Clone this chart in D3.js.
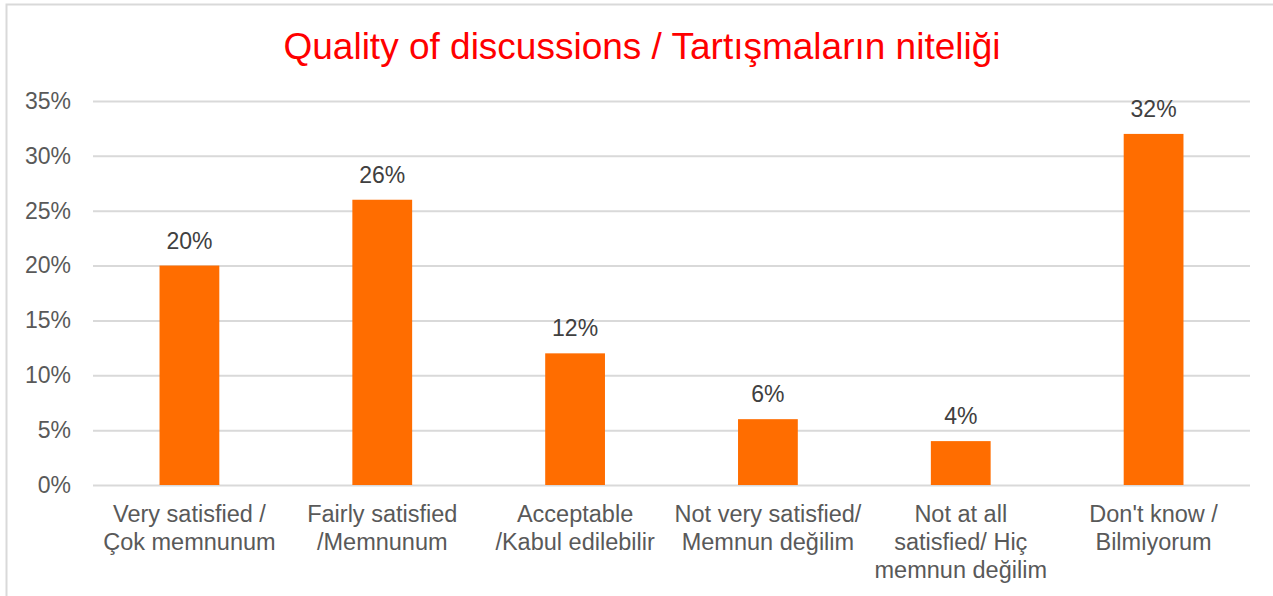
<!DOCTYPE html>
<html>
<head>
<meta charset="utf-8">
<script src="https://cdn.jsdelivr.net/npm/d3@7"></script>
<style>
  body { margin: 0; background: #fff; overflow: hidden; }
  svg { display: block; font-family: "Liberation Sans", Arial, sans-serif; }
</style>
</head>
<body>
<svg id="chart"></svg>
<script>
// data
const categories = [
  ["Very satisfied /", "Çok memnunum"],
  ["Fairly satisfied", "/Memnunum"],
  ["Acceptable", "/Kabul edilebilir"],
  ["Not very satisfied/", "Memnun değilim"],
  ["Not at all", "satisfied/ Hiç", "memnun değilim"],
  ["Don't know /", "Bilmiyorum"]
]
const values = [20, 26, 12, 6, 4, 32]
const yTicks = [0, 5, 10, 15, 20, 25, 30, 35]
const title = "Quality of discussions / Tartışmaların niteliği"

const width = 1273
const height = 596
const margin = { top: 101, right: 23, bottom: 111, left: 93 }
const innerWidth = width - margin.left - margin.right
const innerHeight = height - margin.top - margin.bottom

const svg = d3.select("#chart").attr("width", width).attr("height", height)

// outer frame (only left and top edges are visible)
svg.append("path")
  .attr("d", `M6.5,${height} V4.5 H${width}`)
  .attr("fill", "none").attr("stroke", "#d9d9d9").attr("stroke-width", 2)

svg.append("text")
  .attr("x", 642).attr("y", 59)
  .attr("text-anchor", "middle")
  .attr("fill", "#ff0000")
  .style("font-size", "37px")
  .text(title)

const g = svg.append("g").attr("transform", `translate(${margin.left},${margin.top})`)

const x = d3.scaleBand()
  .domain(d3.range(categories.length))
  .range([0, innerWidth])
  .paddingInner(0.69)
  .paddingOuter(0.345)

const y = d3.scaleLinear().domain([0, 35]).range([innerHeight, 0])

// y axis with gridlines
const yAxis = d3.axisLeft(y)
  .tickValues(yTicks)
  .tickFormat((d) => d + "%")
  .tickSizeInner(-innerWidth)
  .tickSizeOuter(0)
  .tickPadding(22)

const yg = g.append("g").call(yAxis)
yg.select(".domain").remove()
yg.selectAll(".tick line").attr("stroke", "#d9d9d9").attr("stroke-width", 2)
yg.selectAll(".tick text")
  .attr("fill", "#595959")
  .style("font-size", "23px")
  .style("font-family", "\"Liberation Sans\", Arial, sans-serif")

// bars
g.selectAll(".bar")
  .data(values)
  .enter()
  .append("rect")
  .attr("class", "bar")
  .attr("x", (d, i) => x(i))
  .attr("y", (d) => y(d))
  .attr("width", x.bandwidth())
  .attr("height", (d) => innerHeight - y(d))
  .attr("fill", "#ff6d00")

// value labels
g.selectAll(".val")
  .data(values)
  .enter()
  .append("text")
  .attr("class", "val")
  .attr("x", (d, i) => x(i) + x.bandwidth() / 2)
  .attr("y", (d) => y(d) - 17)
  .attr("text-anchor", "middle")
  .attr("fill", "#404040")
  .style("font-size", "23px")
  .text((d) => d + "%")

// category labels
const cat = g.selectAll(".cat")
  .data(categories)
  .enter()
  .append("text")
  .attr("class", "cat")
  .attr("text-anchor", "middle")
  .attr("fill", "#595959")
  .style("font-size", "23.5px")
  .attr("transform", (d, i) => `translate(${x(i) + x.bandwidth() / 2},${innerHeight + 37})`)

cat.selectAll("tspan")
  .data((d) => d)
  .enter()
  .append("tspan")
  .attr("x", 0)
  .attr("y", (d, i) => i * 28)
  .text((d) => d)
</script>
</body>
</html>
